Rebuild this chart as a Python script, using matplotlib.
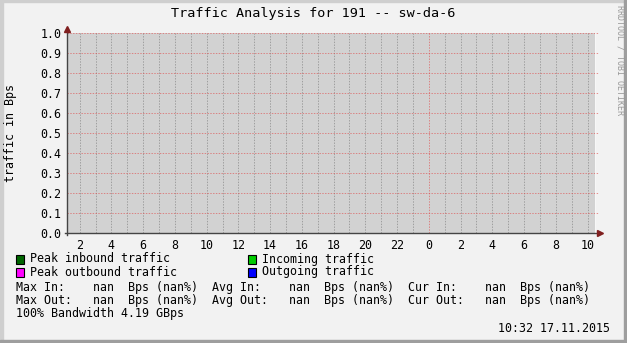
import matplotlib.pyplot as plt
from matplotlib.patches import Rectangle
import numpy as np

W, H = 627, 343

# waktu dalam jam sejak 16.11.2015 00:00 (akhir grafik 17.11.2015 10:32, rentang 120000 s)
t_end = 24 + 10 + 32 / 60
t_start = t_end - 120000 / 3600
jam_grid = list(range(2, 35))
jam_label = list(range(2, 35, 2))
label_x = [str(h % 24) for h in jam_label]
y_ticks = [0.0, 0.1, 0.2, 0.3, 0.4, 0.5, 0.6, 0.7, 0.8, 0.9, 1.0]

# semua data kosong (nan) seperti di grafik aslinya
waktu = [t_start, t_end]
peak_in = [np.nan, np.nan]
incoming = [np.nan, np.nan]
peak_out = [np.nan, np.nan]
outgoing = [np.nan, np.nan]

legend_items = [
    ("Peak inbound traffic", "#006600"),
    ("Incoming traffic", "#00CC00"),
    ("Peak outbound traffic", "#FF00FF"),
    ("Outgoing traffic", "#0000FF"),
]
baris_stat = [
    "Max In:    nan  Bps (nan%)  Avg In:    nan  Bps (nan%)  Cur In:    nan  Bps (nan%)",
    "Max Out:   nan  Bps (nan%)  Avg Out:   nan  Bps (nan%)  Cur Out:   nan  Bps (nan%)",
    "100% Bandwidth 4.19 GBps",
]
judul = "Traffic Analysis for 191 -- sw-da-6"
stempel = "10:32 17.11.2015"

mono = "DejaVu Sans Mono"
fs = 8.35
px1 = 0.72  # 1 piksel dalam poin

# warna bawaan rrdtool
grid_minor = (0.56, 0.56, 0.56, 0.75)
grid_mayor = (0.87, 0.31, 0.31, 0.6)
warna_panah = "#801F1F"


def fx(px):
    return px / W


def fy(py):
    return 1 - py / H


fig = plt.figure(figsize=(W / 100, H / 100), dpi=100, facecolor="#F2F2F2")

# bingkai luar ala rrdtool
fig.patches.append(Rectangle((0, 0), 3 / W, 1, transform=fig.transFigure, color="#CFCFCF"))
fig.patches.append(Rectangle((0, 1 - 2 / H), 1, 2 / H, transform=fig.transFigure, color="#CFCFCF"))
fig.patches.append(Rectangle((1 - 3 / W, 0), 3 / W, 1, transform=fig.transFigure, color="#9E9E9E"))
fig.patches.append(Rectangle((0, 0), 1, 3 / H, transform=fig.transFigure, color="#9E9E9E"))

ax = fig.add_axes([fx(67), fy(233), fx(596) - fx(67), fy(33) - fy(233)])
ax.set_facecolor("#D2D2D2")
ax.set_xlim(t_start, t_end)
ax.set_ylim(0, 1)

# grid minor tiap jam, grid mayor di tengah malam dan tiap 0.1
for h in jam_grid:
    warna = grid_mayor if h == 24 else grid_minor
    ax.axvline(h, color=warna, lw=px1, ls=(0, (1.4, 1.4)), zorder=1)
for y in y_ticks[1:]:
    ax.plot([t_start, t_end + 0.15], [y, y], color=grid_mayor, lw=px1,
            ls=(0, (1.4, 1.4)), clip_on=False, zorder=1)

ax.plot(waktu, peak_in, color="#006600")
ax.plot(waktu, incoming, color="#00CC00")
ax.plot(waktu, peak_out, color="#FF00FF")
ax.plot(waktu, outgoing, color="#0000FF")

for s in ax.spines.values():
    s.set_visible(False)
ax.axvline(t_end, color="white", lw=1.2, zorder=2)

# sumbu dengan panah
ax.plot([0, 0], [-0.01, 1.02], transform=ax.transAxes, color="#444444", lw=1, clip_on=False, zorder=3)
ax.plot([-0.004, 1.008], [0, 0], transform=ax.transAxes, color="#444444", lw=1, clip_on=False, zorder=3)
ax.plot([0], [1.02], transform=ax.transAxes, marker="^", ms=5, color=warna_panah, clip_on=False, zorder=4)
ax.plot([1.008], [0], transform=ax.transAxes, marker=">", ms=5, color=warna_panah, clip_on=False, zorder=4)

ax.set_xticks(jam_label)
ax.set_xticklabels(label_x, fontfamily=mono, fontsize=fs)
ax.set_yticks(y_ticks)
ax.set_yticklabels(["%.1f" % v for v in y_ticks], fontfamily=mono, fontsize=fs)
ax.tick_params(axis="x", length=0, pad=4)
ax.tick_params(axis="y", length=0, pad=4)

fig.text(0.5, fy(14), judul, ha="center", va="center", fontfamily=mono, fontsize=9.7)
fig.text(fx(11), fy(133), "traffic in Bps", rotation=90, ha="center", va="center",
         fontfamily=mono, fontsize=fs)
fig.text(fx(620), fy(5), "RRDTOOL / TOBI OETIKER", rotation=-90, ha="center", va="top",
         fontfamily=mono, fontsize=6, color="#999999")

# legenda
posisi = [(16, 259), (248, 259), (16, 272), (248, 272)]
for (teks, warna), (px, py) in zip(legend_items, posisi):
    fig.patches.append(Rectangle((fx(px), fy(py + 4.5)), 8 / W, 9 / H, transform=fig.transFigure,
                                 facecolor=warna, edgecolor="black", lw=0.8))
    fig.text(fx(px + 14), fy(py), teks, ha="left", va="center", fontfamily=mono, fontsize=fs)

for i, baris in enumerate(baris_stat):
    fig.text(fx(16), fy(287 + 13.5 * i), baris, ha="left", va="center", fontfamily=mono, fontsize=fs)

fig.text(fx(610), fy(329), stempel, ha="right", va="center", fontfamily=mono, fontsize=fs)

fig.savefig("out.png", dpi=100, facecolor=fig.get_facecolor())
